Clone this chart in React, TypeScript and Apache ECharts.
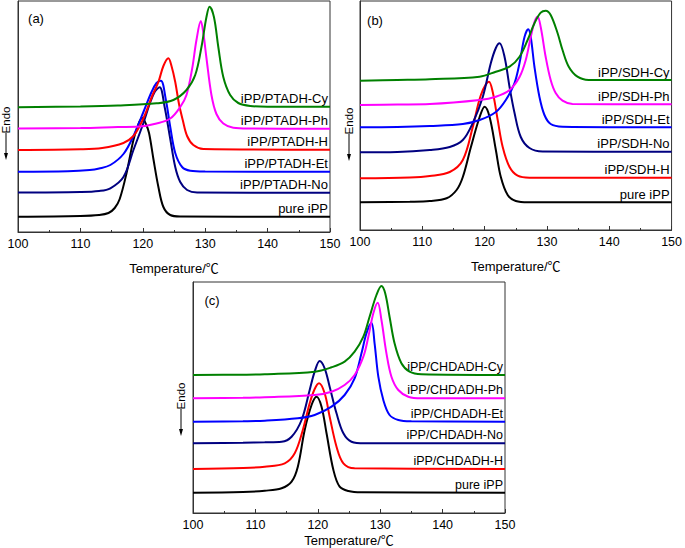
import React, { useEffect, useRef } from "react";
import * as echarts from "echarts";

// ---------- data (temperature in °C, heat flow in offset arbitrary units) ----------
const panelTags = ["(a)", "(b)", "(c)"];
const axisTitle = "Temperature/℃";
const endoText = "Endo";

// Panel (a)
const aNames = ["pure iPP", "iPP/PTADH-No", "iPP/PTADH-Et", "iPP/PTADH-H", "iPP/PTADH-Ph", "iPP/PTADH-Cy"];
const aPure = [[100, 15.3], [110, 16], [113, 17], [114.5, 19], [115.5, 24], [116.3, 33], [117.4, 59], [118.5, 92], [119.3, 108], [119.9, 114], [120.5, 108], [121, 99], [121.7, 73], [122.5, 45], [123.3, 25], [124.4, 17], [126, 15.5], [150, 15.3]];
const aNo = [[100, 39.5], [110, 40], [113, 41], [114.8, 43.7], [116.9, 55], [118.5, 82], [120.1, 109], [121.1, 128], [121.9, 140], [122.7, 144.7], [123.5, 125], [124.4, 93], [125.2, 65], [126, 50], [127.1, 42], [128.7, 39.5], [150, 39.3]];
const aEt = [[100, 60.3], [108, 60.8], [111.5, 62], [113, 63.5], [114.8, 67], [116.9, 78], [118.5, 96], [120.1, 120], [121.4, 140], [122.2, 149], [122.9, 151.3], [123.7, 132], [124.4, 105], [125.2, 79], [126.3, 65], [127.6, 61.3], [130, 60.5], [150, 60.3]];
const aH = [[100, 82], [110, 82.7], [113.5, 84], [116.9, 89], [118.5, 96], [119.5, 106], [120.4, 118], [121.5, 136], [122.5, 150], [123.3, 166], [124.1, 173.7], [124.6, 166], [125.2, 150], [125.8, 128], [126.4, 112], [127.1, 96], [128.1, 87], [129.7, 83], [150, 82.3]];
const aPh = [[100, 103.5], [110, 104], [116, 105], [119.5, 105.5], [122.2, 108.5], [124.4, 113.5], [126, 125], [127, 137], [127.9, 163], [128.6, 192], [129.3, 211], [129.7, 199], [130.2, 174], [131, 137], [131.8, 118], [132.9, 108.5], [134.5, 104.3], [137, 103.5], [150, 103.3]];
const aCy = [[100, 124.7], [110, 125.5], [116, 126.5], [122.2, 128.7], [124.9, 132], [127, 142], [128.4, 157], [129.4, 185], [130.2, 215], [130.7, 225.3], [131.4, 215], [132.1, 185], [132.9, 155], [134, 137], [135.3, 129], [137.2, 126], [140, 125.3], [150, 125.3]];

// Panel (b)
const bNames = ["pure iPP", "iPP/SDH-H", "iPP/SDH-No", "iPP/SDH-Et", "iPP/SDH-Ph", "iPP/SDH-Cy"];
const bPure = [[100, 27.7], [108, 28.3], [111.2, 29], [113.9, 31.7], [115.5, 40], [116.5, 53], [117.8, 83], [119.2, 113], [120, 123.3], [120.8, 113], [121.8, 80], [122.6, 53], [123.7, 35], [125, 29], [127, 27.7], [150, 27.7]];
const bH = [[100, 51.7], [108, 52.5], [111.2, 54], [114.4, 58], [116.5, 70], [118.1, 103], [119.4, 135], [120.7, 148.3], [121.3, 138], [122.1, 110], [122.9, 83], [124, 63], [125.3, 54.3], [127.2, 52.3], [150, 52.3]];
const bNo = [[100, 77.7], [106, 78], [111.2, 80], [114.4, 83], [116.5, 90], [118.1, 107], [119.7, 133], [121, 167], [121.8, 182], [122.4, 186.7], [123.2, 173], [124, 143], [124.8, 117], [125.8, 93], [127.2, 82], [129.3, 78.5], [150, 78.3]];
const bEt = [[100, 102.7], [106, 103], [111.2, 104], [116.5, 106], [119.2, 110], [121.8, 118], [123.4, 130], [124.8, 147], [125.6, 167], [126.4, 193], [127, 200.7], [127.4, 193], [128, 163], [128.8, 133], [129.6, 115], [130.6, 106], [132.5, 103.3], [150, 102.7]];
const bPh = [[100, 125], [106, 125.5], [111.2, 126], [119.2, 130], [121.8, 133.3], [124, 140], [125.6, 153], [126.6, 170], [127.4, 193], [128, 208], [128.5, 213.3], [129, 203], [129.8, 173], [130.6, 150], [131.4, 137], [132.5, 129.3], [134.1, 126], [150, 125.7]];
const bCy = [[100, 149.3], [106, 150], [111.2, 150.7], [119.2, 153.3], [121.8, 158.3], [124, 163.3], [125.6, 173.3], [126.9, 190], [128, 206.7], [129, 217.3], [129.8, 219.3], [130.6, 215], [131.7, 197], [132.5, 180], [133.5, 163.3], [134.9, 153.3], [136.7, 150], [150, 150]];

// Panel (c)
const cNames = ["pure iPP", "iPP/CHDADH-H", "iPP/CHDADH-No", "iPP/CHDADH-Et", "iPP/CHDADH-Ph", "iPP/CHDADH-Cy"];
const cPure = [[100, 20.3], [108, 21], [111.5, 22.3], [114.2, 24.7], [115.8, 31.3], [116.8, 46.3], [117.9, 83], [119, 108], [119.8, 116.3], [120.6, 106.3], [121.4, 79.7], [122.5, 43], [123.5, 26.3], [124.9, 22], [127, 20.7], [150, 20.3]];
const cH = [[100, 44], [108, 45], [111.5, 46.3], [114.7, 49.7], [116.3, 59.7], [117.6, 83], [118.7, 109.7], [119.5, 124], [120.2, 129.7], [121.1, 119.7], [121.9, 96.3], [123, 66.3], [124.1, 49.7], [125.9, 44.7], [150, 44]];
const cNo = [[100, 69.7], [108, 70.3], [111.5, 70.7], [114.2, 71.3], [115.8, 76.3], [117.4, 93], [118.7, 123], [119.5, 141.3], [120.3, 152], [121.1, 144.7], [121.9, 126.3], [123, 99.7], [124.1, 79.7], [125.4, 71.3], [127.5, 69.7], [150, 69.7]];
const cEt = [[100, 91.3], [108, 91.8], [111.5, 92.3], [116.8, 94.7], [119.5, 98], [122.2, 106.3], [124.3, 118], [125.9, 134.7], [127, 159.7], [127.8, 179.7], [128.6, 190.3], [129.1, 169.7], [129.7, 136.3], [130.5, 113], [131.5, 98], [132.9, 93], [135, 91.7], [150, 91.3]];
const cPh = [[100, 114.7], [108, 115.2], [111.5, 115.7], [119.5, 118], [122.2, 121.3], [124.3, 128], [125.9, 138], [127.3, 156.3], [128.1, 176.3], [128.9, 199.7], [129.6, 210.3], [130.2, 193], [131, 159.7], [131.8, 136.3], [132.9, 123], [134.5, 116.3], [136.6, 114.7], [150, 114.7]];
const cCy = [[100, 138], [108, 138.3], [111.5, 138.7], [119.5, 141.3], [122.2, 145.7], [124.3, 151.3], [125.9, 161.3], [127.3, 176.3], [128.3, 196.3], [129.4, 218], [130.2, 227], [130.8, 219.7], [131.5, 196.3], [132.3, 169.7], [133.4, 149.7], [134.7, 141.3], [136.6, 138.7], [150, 138]];

// ---------- styling ----------
const FONT = "'Liberation Sans', Arial, 'Noto Sans CJK SC', sans-serif";
const AXIS = "#333";
const colorOf = (name: string) => {
  if (name.startsWith("pure")) return "#000000";
  if (name.endsWith("-H")) return "#ff0000";
  if (name.endsWith("-No")) return "#000080";
  if (name.endsWith("-Et")) return "#0000ff";
  if (name.endsWith("-Ph")) return "#ff00ff";
  return "#008000";
};

const panels = [
  { names: aNames, curves: [aPure, aNo, aEt, aH, aPh, aCy], grid: { left: 18, top: 1, width: 312, height: 231 }, yMax: 231, nameGap: 30, labelSize: 13, tag: [36, 18], endo: [6, 120] },
  { names: bNames, curves: [bPure, bH, bNo, bEt, bPh, bCy], grid: { left: 360, top: 1, width: 313, height: 229 }, yMax: 229, nameGap: 30, labelSize: 13, tag: [375, 20], endo: [349, 121] },
  { names: cNames, curves: [cPure, cH, cNo, cEt, cPh, cCy], grid: { left: 193, top: 282, width: 312, height: 231 }, yMax: 231, nameGap: 21, labelSize: 12.5, tag: [212, 300], endo: [181, 396] },
];

export default function App() {
  const ref = useRef<HTMLDivElement>(null);
  useEffect(() => {
    if (!ref.current) return;
    const chart = echarts.init(ref.current, null, { renderer: "svg" });
    const option: any = {
      animation: false,
      backgroundColor: "#ffffff",
      grid: panels.map((p) => ({ ...p.grid, show: true, borderColor: AXIS, borderWidth: 1, backgroundColor: "transparent" })),
      xAxis: panels.map((p, i) => ({
        gridIndex: i,
        type: "value",
        min: 100,
        max: 150,
        interval: 10,
        axisLine: { show: true, lineStyle: { color: AXIS, width: 1 } },
        axisTick: { show: true, inside: true, length: 4, lineStyle: { color: AXIS } },
        minorTick: { show: true, splitNumber: 2, length: 2, lineStyle: { color: AXIS } },
        splitLine: { show: false },
        axisLabel: { color: "#000", fontSize: 12.5, margin: 6, fontFamily: FONT },
        name: axisTitle,
        nameLocation: "middle",
        nameGap: p.nameGap,
        nameTextStyle: { color: "#000", fontSize: 13, fontFamily: FONT },
      })),
      yAxis: panels.map((p, i) => ({
        gridIndex: i,
        type: "value",
        min: 0,
        max: p.yMax,
        axisLine: { show: true, lineStyle: { color: AXIS, width: 1 } },
        axisTick: { show: false },
        axisLabel: { show: false },
        splitLine: { show: false },
      })),
      series: panels.flatMap((p, i) =>
        p.curves.map((data, k) => ({
          type: "line",
          name: p.names[k],
          xAxisIndex: i,
          yAxisIndex: i,
          data,
          smooth: 0.35,
          showSymbol: false,
          silent: true,
          lineStyle: { color: colorOf(p.names[k]), width: 2 },
          itemStyle: { color: colorOf(p.names[k]) },
        }))
      ),
    };
    chart.setOption(option);

    const graphics: any[] = [];
    panels.forEach((p, gi) => {
      graphics.push({
        type: "text",
        x: p.tag[0],
        y: p.tag[1],
        style: { text: panelTags[gi], align: "center", verticalAlign: "middle", fontSize: 13, fontFamily: FONT, fill: "#000" },
      });
      graphics.push({
        type: "text",
        x: p.endo[0],
        y: p.endo[1],
        rotation: Math.PI / 2,
        style: { text: endoText, align: "center", verticalAlign: "middle", fontSize: 11.5, fontFamily: FONT, fill: "#000" },
      });
      const ax = p.endo[0];
      const y0 = p.endo[1] + 13;
      graphics.push({ type: "line", shape: { x1: ax, y1: y0, x2: ax, y2: y0 + 22 }, style: { stroke: "#000", lineWidth: 1 } });
      graphics.push({ type: "polygon", shape: { points: [[ax - 2, y0 + 20], [ax + 2, y0 + 20], [ax, y0 + 27]] }, style: { fill: "#000" } });
      p.curves.forEach((data, k) => {
        const last = data[data.length - 1];
        const pt = chart.convertToPixel({ gridIndex: gi } as any, last) as number[];
        graphics.push({
          type: "text",
          x: pt[0] - 2,
          y: pt[1] - 8,
          style: { text: p.names[k], align: "right", verticalAlign: "middle", fontSize: p.labelSize, fontFamily: FONT, fill: "#000" },
        });
      });
    });
    chart.setOption({ graphic: graphics });
    return () => chart.dispose();
  }, []);
  return <div ref={ref} style={{ position: "absolute", left: 0, top: 0, width: 685, height: 548, background: "#fff" }} />;
}
